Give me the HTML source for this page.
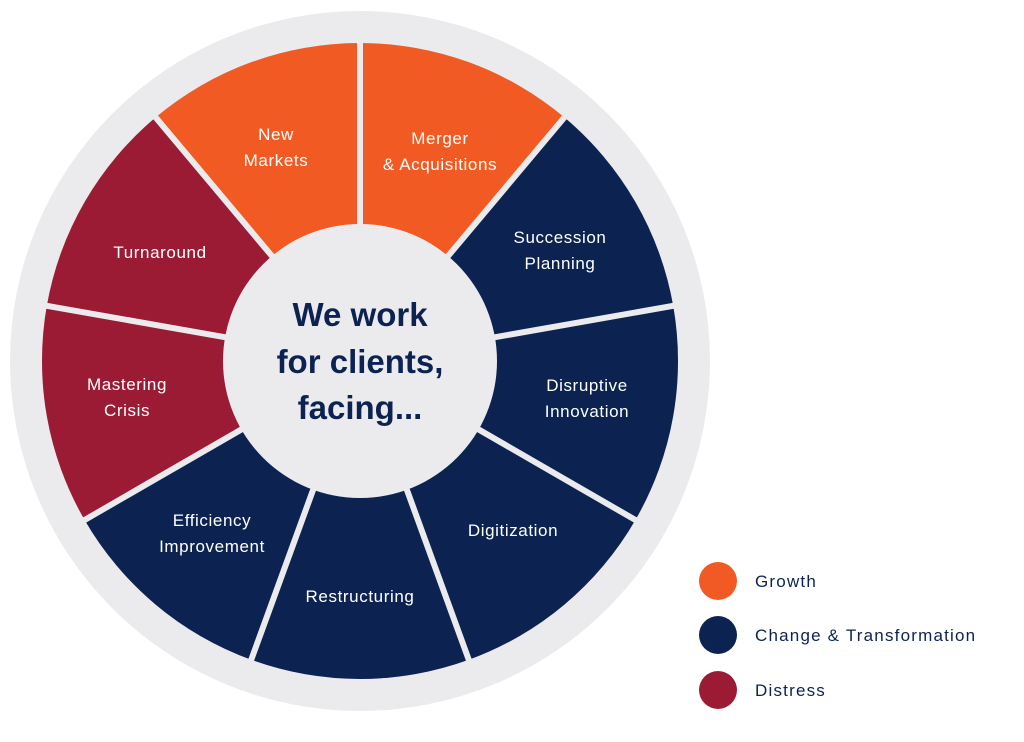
<!DOCTYPE html>
<html><head><meta charset="utf-8"><style>
html,body{margin:0;padding:0;background:#fff;}
svg{display:block;font-family:"Liberation Sans",sans-serif;}
</style></head><body>
<svg width="1024" height="742" viewBox="0 0 1024 742" xmlns="http://www.w3.org/2000/svg">
<circle cx="360" cy="361" r="350" fill="#ebebee"/>
<path d="M360 361 L360.0 43.0 A318 318 0 0 1 564.4 117.4 Z" fill="#f15a22"/>
<path d="M360 361 L564.4 117.4 A318 318 0 0 1 673.2 305.8 Z" fill="#0c2352"/>
<path d="M360 361 L673.2 305.8 A318 318 0 0 1 635.4 520.0 Z" fill="#0c2352"/>
<path d="M360 361 L635.4 520.0 A318 318 0 0 1 468.8 659.8 Z" fill="#0c2352"/>
<path d="M360 361 L468.8 659.8 A318 318 0 0 1 251.2 659.8 Z" fill="#0c2352"/>
<path d="M360 361 L251.2 659.8 A318 318 0 0 1 84.6 520.0 Z" fill="#0c2352"/>
<path d="M360 361 L84.6 520.0 A318 318 0 0 1 46.8 305.8 Z" fill="#9b1b34"/>
<path d="M360 361 L46.8 305.8 A318 318 0 0 1 155.6 117.4 Z" fill="#9b1b34"/>
<path d="M360 361 L155.6 117.4 A318 318 0 0 1 360.0 43.0 Z" fill="#f15a22"/>
<g stroke="#ebebee" stroke-width="6">
<line x1="360" y1="361" x2="360.0" y2="40"/>
<line x1="360" y1="361" x2="566.3" y2="115.1"/>
<line x1="360" y1="361" x2="676.1" y2="305.3"/>
<line x1="360" y1="361" x2="638.0" y2="521.5"/>
<line x1="360" y1="361" x2="469.8" y2="662.6"/>
<line x1="360" y1="361" x2="250.2" y2="662.6"/>
<line x1="360" y1="361" x2="82.0" y2="521.5"/>
<line x1="360" y1="361" x2="43.9" y2="305.3"/>
<line x1="360" y1="361" x2="153.7" y2="115.1"/>
</g>
<circle cx="360" cy="361" r="137" fill="#ebebee"/>
<g fill="#0c2352" font-weight="bold" font-size="33" text-anchor="middle">
<text x="360" y="326">We work</text>
<text x="360" y="373">for clients,</text>
<text x="360" y="419">facing...</text>
</g>
<g fill="#fff" font-size="17" text-anchor="middle" letter-spacing="0.6">
<text x="276" y="140">New</text><text x="276" y="166">Markets</text>
<text x="440" y="144">Merger</text><text x="440" y="170">&amp; Acquisitions</text>
<text x="560" y="243">Succession</text><text x="560" y="269">Planning</text>
<text x="587" y="391">Disruptive</text><text x="587" y="417">Innovation</text>
<text x="513" y="536">Digitization</text>
<text x="360" y="602">Restructuring</text>
<text x="212" y="526">Efficiency</text><text x="212" y="552">Improvement</text>
<text x="127" y="390">Mastering</text><text x="127" y="416">Crisis</text>
<text x="160" y="258">Turnaround</text>
</g>
<circle cx="718" cy="581" r="19" fill="#f15a22"/>
<circle cx="718" cy="635" r="19" fill="#0c2352"/>
<circle cx="718" cy="690" r="19" fill="#9b1b34"/>
<g fill="#0c2352" font-size="17" letter-spacing="1.2">
<text x="755" y="587">Growth</text>
<text x="755" y="641">Change &amp; Transformation</text>
<text x="755" y="696">Distress</text>
</g>
</svg>
</body></html>
